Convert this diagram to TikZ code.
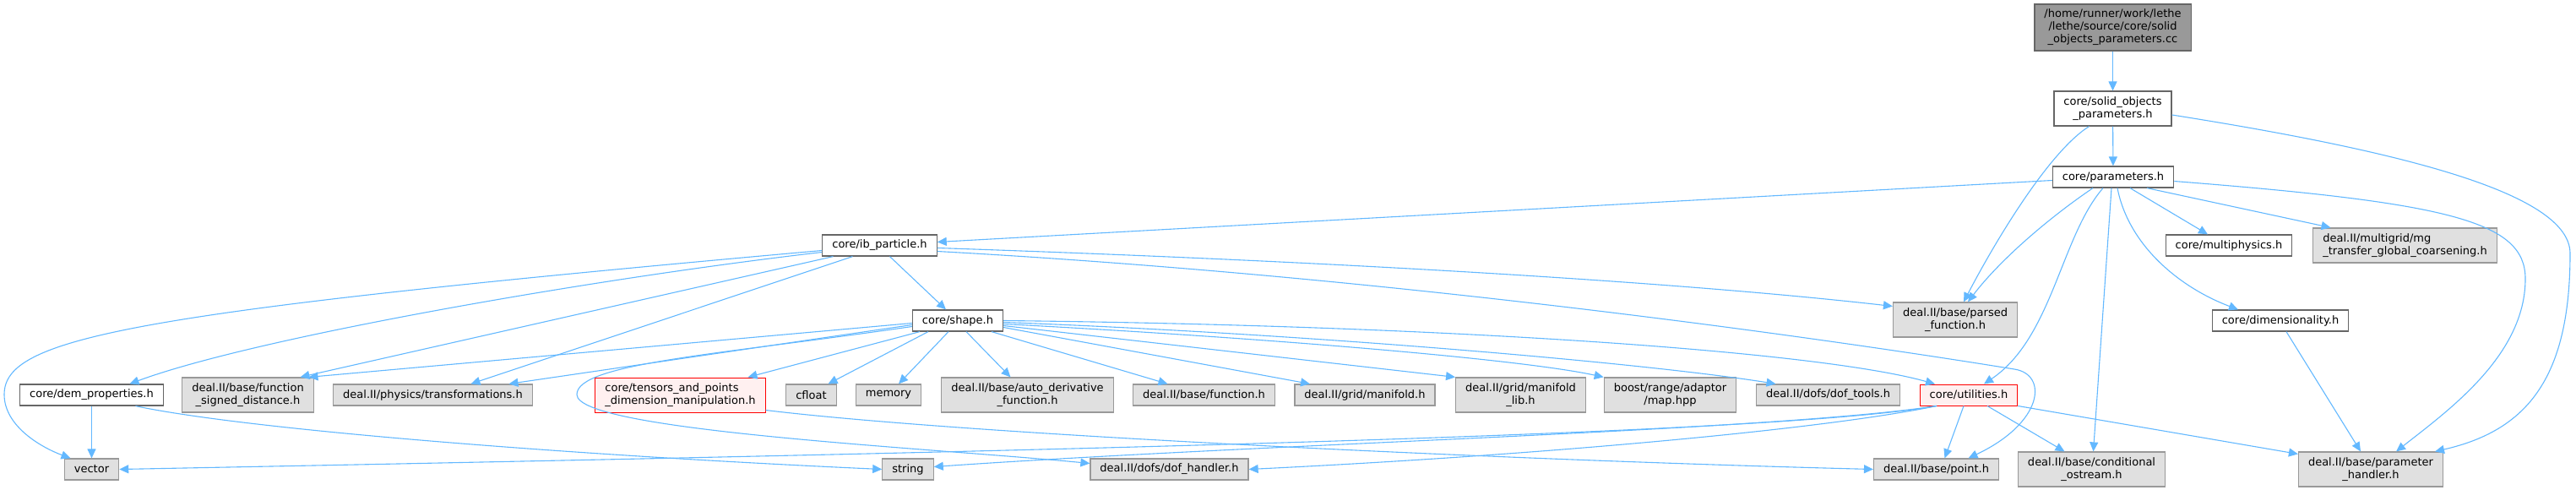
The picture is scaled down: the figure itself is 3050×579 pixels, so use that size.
\documentclass[tikz,border=0pt]{standalone}
\usepackage{fontspec}
\setmainfont{DejaVu Sans}
\usepackage{xcolor}
\usepackage{tikz}
\usetikzlibrary{arrows.meta}

\definecolor{edgeblue}{HTML}{63B8FF}
\definecolor{boxgray}{HTML}{E0E0E0}
\definecolor{rimgray}{HTML}{999999}
\definecolor{darkrim}{HTML}{666666}
\definecolor{srcgray}{HTML}{999999}
\definecolor{truncfill}{HTML}{FFF0F0}

\begin{document}
\begin{tikzpicture}[
  x=1pt, y=-1pt,
  box/.style={draw, line width=1.2pt, align=center, font=\fontsize{13pt}{15pt}\selectfont, inner xsep=11.5pt, inner ysep=1pt, minimum height=25pt},
  local/.style={box, fill=white, draw=darkrim},
  ext/.style={box, fill=boxgray, draw=rimgray},
  trunc/.style={box, fill=truncfill, draw=red, line width=1pt},
  src/.style={box, fill=srcgray, draw=darkrim, minimum height=55pt},
  two/.style={minimum height=41pt},
  arr/.style={-{Triangle[length=11pt, width=10pt]}, draw=edgeblue, line width=1.1pt}
]
\useasboundingbox (0,0) rectangle (3050,579);

\node[src] (root) at (2501.5,32.5) {/home/runner/work/lethe\\/lethe/source/core/solid\\\_objects\_parameters.cc};
\node[local, two] (solid) at (2501.5,128.5) {core/solid\_objects\\\_parameters.h};
\node[local] (params) at (2502,209.5) {core/parameters.h};

\node[local] (ibp) at (1041.5,290.5) {core/ib\_particle.h};
\node[local] (multiphysics) at (2639,290.5) {core/multiphysics.h};
\node[ext, two, align=left] (mgtransfer) at (2847.5,290.5) {deal.II/multigrid/mg\\\_transfer\_global\_coarsening.h};

\node[local] (shape) at (1134,379.5) {core/shape.h};
\node[ext, two] (parsed) at (2315,378.5) {deal.II/base/parsed\\\_function.h};
\node[local] (dimensionality) at (2700,379.5) {core/dimensionality.h};

\node[local] (dem) at (108.5,467.5) {core/dem\_properties.h};
\node[ext, two] (fsd) at (293.5,467.5) {deal.II/base/function\\\_signed\_distance.h};
\node[ext] (transformations) at (512.5,467.5) {deal.II/physics/transformations.h};
\node[trunc, two, align=left] (tensors) at (805.5,467.5) {core/tensors\_and\_points\\\_dimension\_manipulation.h};
\node[ext] (cfloat) at (960.5,467.5) {cfloat};
\node[ext] (memory) at (1052,467.5) {memory};
\node[ext, two] (autoderiv) at (1216.5,467.5) {deal.II/base/auto\_derivative\\\_function.h};
\node[ext] (function) at (1425.5,467.5) {deal.II/base/function.h};
\node[ext] (manifold) at (1616,467.5) {deal.II/grid/manifold.h};
\node[ext, two] (manifoldlib) at (1800.5,467.5) {deal.II/grid/manifold\\\_lib.h};
\node[ext, two] (maphpp) at (1977.5,467.5) {boost/range/adaptor\\/map.hpp};
\node[ext] (doftools) at (2164.5,467.5) {deal.II/dofs/dof\_tools.h};
\node[trunc] (utilities) at (2331,467.5) {core/utilities.h};

\node[ext] (vector) at (108.5,555.5) {vector};
\node[ext] (string) at (1075,555.5) {string};
\node[ext] (dofhandler) at (1384.5,555.5) {deal.II/dofs/dof\_handler.h};
\node[ext] (point) at (2292.5,555.5) {deal.II/base/point.h};
\node[ext, two] (condostream) at (2476.5,555.5) {deal.II/base/conditional\\\_ostream.h};
\node[ext, two] (paramhandler) at (2807,555.5) {deal.II/base/parameter\\\_handler.h};

\draw[arr] (root) -- (solid);
\draw[arr] (solid) -- (params);
\draw[arr] ([xshift=-28pt]solid.south) .. controls (2425,180) and (2360,290) .. ([xshift=10pt]parsed.north);
\draw[arr] ([yshift=-7.5pt]solid.east) .. controls (2850,180) and (3043,230) .. (3043,300) .. controls (3043,450) and (2990,510) .. ([xshift=76pt]paramhandler.north);

\draw[arr] ([yshift=-4pt]params.west) -- ([yshift=4pt]ibp.east);
\draw[arr] ([xshift=-24pt]params.south) .. controls (2430,255) and (2370,305) .. ([xshift=15pt]parsed.north);
\draw[arr] ([xshift=-12pt]params.south) .. controls (2440,280) and (2430,400) .. ([xshift=18pt]utilities.north);
\draw[arr] ([xshift=-2pt]params.south) -- ([xshift=2pt]condostream.north);
\draw[arr] ([xshift=5pt]params.south) .. controls (2520,290) and (2580,340) .. ([xshift=-50pt]dimensionality.north);
\draw[arr] ([xshift=20pt]params.south) -- ([xshift=-25pt]multiphysics.north);
\draw[arr] ([xshift=40pt]params.south) -- ([xshift=-88pt]mgtransfer.north);
\draw[arr] ([yshift=-5pt]params.east) .. controls (2900,240) and (2990,262) .. (2990,330) .. controls (2990,420) and (2900,485) .. ([xshift=30pt]paramhandler.north);

\draw[arr] ([xshift=7pt]dimensionality.south) -- ([xshift=-12pt]paramhandler.north);

\draw[arr] (utilities.south east) -- ([yshift=-3pt]paramhandler.north west);
\draw[arr] ([xshift=-6pt]utilities.south) -- ([xshift=10pt]point.north);
\draw[arr] ([xshift=22pt]utilities.south) -- ([xshift=-32pt]condostream.north);
\draw[arr] ([xshift=-38pt]utilities.south) .. controls (2100,515) and (1200,535) .. (vector.east);
\draw[arr] ([xshift=-38pt]utilities.south) .. controls (2100,510) and (1500,525) .. ([yshift=3pt]string.east);
\draw[arr] ([xshift=-38pt]utilities.south) .. controls (2150,510) and (1800,540) .. (dofhandler.east);

\draw[arr] ([xshift=12pt]ibp.south) -- ([xshift=-14pt]shape.north);
\draw[arr] ([yshift=-3pt]ibp.east) .. controls (1600,310) and (2000,335) .. ([yshift=16pt]parsed.west);
\draw[arr] ([yshift=-7pt]ibp.east) .. controls (1700,330) and (2250,415) .. (2385,437) .. controls (2425,443) and (2420,500) .. ([xshift=38pt]point.north);
\draw[arr] ([yshift=-8pt]ibp.west) .. controls (700,330) and (300,400) .. ([xshift=45pt]dem.north);
\draw[arr] ([yshift=-6pt]ibp.west) .. controls (150,370) and (5,400) .. (5,467) .. controls (5,505) and (50,530) .. ([xshift=-25pt]vector.north);
\draw[arr] ([xshift=-55pt]ibp.south) -- ([xshift=62pt]fsd.north);
\draw[arr] ([xshift=-32pt]ibp.south) -- ([xshift=45pt]transformations.north);

\draw[arr] ([yshift=-3pt]shape.west) -- ([xshift=72pt]fsd.north);
\draw[arr] ([yshift=-5pt]shape.west) -- ([xshift=90pt]transformations.north);
\draw[arr] ([yshift=-7pt]shape.west) .. controls (850,420) and (683,430) .. (683,467) .. controls (683,510) and (1100,530) .. ([yshift=7pt]dofhandler.west);
\draw[arr] ([xshift=-45pt]shape.south) -- ([xshift=80pt]tensors.north);
\draw[arr] ([xshift=-35pt]shape.south) -- ([xshift=20pt]cfloat.north);
\draw[arr] ([xshift=-11pt]shape.south) -- ([xshift=12pt]memory.north);
\draw[arr] ([xshift=10pt]shape.south) -- ([xshift=-20pt]autoderiv.north);
\draw[arr] ([xshift=40pt]shape.south) -- ([xshift=-43pt]function.north);
\draw[arr] ([yshift=-8pt]shape.east) -- ([xshift=-65pt]manifold.north);
\draw[arr] ([yshift=-6pt]shape.east) -- (manifoldlib.north west);
\draw[arr] ([yshift=-4pt]shape.east) .. controls (1500,400) and (1800,425) .. (maphpp.north west);
\draw[arr] ([yshift=-2pt]shape.east) .. controls (1550,395) and (1950,430) .. ([xshift=-62pt]doftools.north);
\draw[arr] (shape.east) .. controls (1700,385) and (2150,415) .. ([xshift=-40pt]utilities.north);

\draw[arr] (dem) -- (vector);
\draw[arr] ([xshift=52pt]dem.south) .. controls (300,510) and (700,540) .. (string.west);

\draw[arr] ([yshift=-18pt]tensors.east) .. controls (1150,515) and (1800,545) .. (point.west);

\end{tikzpicture}
\end{document}
